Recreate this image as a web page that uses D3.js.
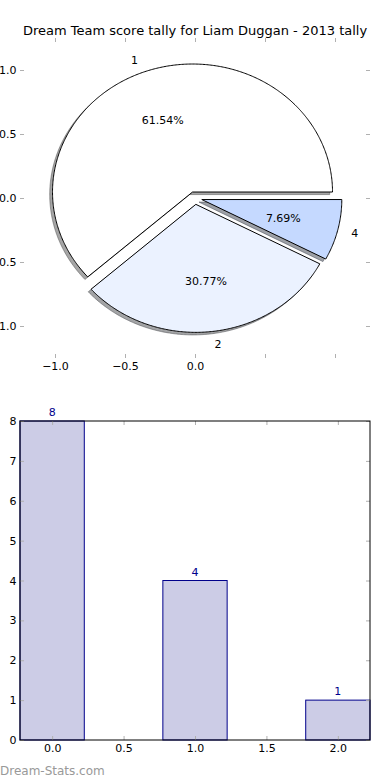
<!DOCTYPE html>
<html><head><meta charset="utf-8">
<script src="https://cdn.jsdelivr.net/npm/d3@7"></script>
<style>
html,body{margin:0;padding:0;background:#fff;}
svg{display:block;font-family:"DejaVu Sans",sans-serif;}
</style></head>
<body>
<svg id="c" width="390" height="780"></svg>
<script>
// ---- data ----
const titleText = "Dream Team score tally for Liam Duggan - 2013 tally";
const pieLabels = ["1", "2", "4"];
const pieValues = [8, 4, 1];
const barCategories = [0, 1, 2];
const barValues = [8, 4, 1];
const pieXTicks = [-1.0, -0.5, 0.0, 0.5, 1.0];
const pieXTickLabels = ["\u22121.0", "\u22120.5", "0.0", "", ""];
const pieYTicks = [-1.0, -0.5, 0.0, 0.5, 1.0];
const pieYTickLabels = ["\u22121.0", "\u22120.5", "0.0", "0.5", "1.0"];
const barXTicks = [0.0, 0.5, 1.0, 1.5, 2.0];
const barYTicks = [0, 1, 2, 3, 4, 5, 6, 7, 8];
const watermark = "Dream-Stats.com";

// ---- styles ----
const pieColors = ["#ffffff", "#ebf2ff", "#c5d9ff"];
const explode = 0.05;
const tickColor = "#b0b0b0";

const svg = d3.select("#c");

// title
svg.append("text").attr("x", 195).attr("y", 35).attr("text-anchor", "middle")
  .attr("font-size", "13px").attr("fill", "#000").text(titleText);

// ---- pie axes ----
const px = d3.scaleLinear().domain([-1.25, 1.25]).range([20, 370]);
const py = d3.scaleLinear().domain([-1.25, 1.25]).range([358, 38]);

function styleAxis(g) {
  g.select(".domain").remove();
  g.selectAll(".tick line").attr("stroke", tickColor).attr("stroke-width", 1);
  g.selectAll(".tick text").attr("fill", "#000").attr("font-size", "11px")
    .attr("font-family", "DejaVu Sans, sans-serif");
}

const pieX = d3.axisBottom(px).tickValues(pieXTicks).tickSizeInner(-4).tickSizeOuter(0).tickPadding(4)
  .tickFormat((d, i) => pieXTickLabels[i]);
svg.append("g").attr("transform", "translate(0,358)").call(pieX).call(styleAxis);
svg.append("g").attr("transform", "translate(0,38)")
  .call(d3.axisTop(px).tickValues(pieXTicks).tickSizeInner(-4).tickSizeOuter(0).tickFormat(""))
  .call(styleAxis);
svg.append("g").attr("transform", "translate(20,0)")
  .call(d3.axisLeft(py).tickValues(pieYTicks).tickSizeInner(-4).tickSizeOuter(0).tickPadding(3.5)
    .tickFormat((d, i) => pieYTickLabels[i]))
  .call(styleAxis);
svg.append("g").attr("transform", "translate(370,0)")
  .call(d3.axisRight(py).tickValues(pieYTicks).tickSizeInner(-4).tickSizeOuter(0).tickFormat(""))
  .call(styleAxis);

// pie wedges (matplotlib style: start at east, counter-clockwise)
const arcs = d3.pie().sort(null).startAngle(0).endAngle(2 * Math.PI)(pieValues);
const total = d3.sum(pieValues);
const line = d3.line().x(d => px(d[0])).y(d => py(d[1]));

function wedgePts(a, ox, oy) {
  const mid = (a.startAngle + a.endAngle) / 2;
  const cx = explode * Math.cos(mid) + ox, cy = explode * Math.sin(mid) + oy;
  const pts = [[cx, cy]];
  const n = Math.max(4, Math.ceil((a.endAngle - a.startAngle) / 0.01));
  for (let k = 0; k <= n; k++) {
    const t = a.startAngle + (a.endAngle - a.startAngle) * k / n;
    pts.push([cx + Math.cos(t), cy + Math.sin(t)]);
  }
  pts.push([cx, cy]);
  return pts;
}

const pieG = svg.append("g");
// shadows
arcs.forEach((a, i) => {
  const c = d3.rgb(pieColors[i]);
  const sc = `rgba(${Math.round(c.r * 0.3)},${Math.round(c.g * 0.3)},${Math.round(c.b * 0.3)},0.5)`;
  pieG.append("path").attr("d", line(wedgePts(a, -0.02, -0.02)) + "Z")
    .attr("fill", sc).attr("stroke", sc).attr("stroke-width", 1);
});
// wedges
arcs.forEach((a, i) => {
  pieG.append("path").attr("d", line(wedgePts(a, 0, 0)) + "Z")
    .attr("fill", pieColors[i]).attr("stroke", "#000").attr("stroke-width", 1)
    .attr("stroke-linejoin", "miter");
});
// labels
arcs.forEach((a, i) => {
  const mid = (a.startAngle + a.endAngle) / 2;
  const cx = explode * Math.cos(mid), cy = explode * Math.sin(mid);
  const lx = cx + 1.1 * Math.cos(mid), ly = cy + 1.1 * Math.sin(mid);
  pieG.append("text").attr("x", px(lx)).attr("y", py(ly)).attr("dy", "0.36em")
    .attr("text-anchor", lx > 0 ? "start" : "end").attr("font-size", "11px").text(pieLabels[i]);
  const tx = cx + 0.6 * Math.cos(mid), ty = cy + 0.6 * Math.sin(mid);
  pieG.append("text").attr("x", px(tx)).attr("y", py(ty)).attr("dy", "0.36em")
    .attr("text-anchor", "middle").attr("font-size", "11px")
    .text(d3.format(".2f")(pieValues[i] / total * 100) + "%");
});

// ---- bar axes ----
const bx = d3.scaleLinear().domain([-0.225, 2.225]).range([20, 370]);
const by = d3.scaleLinear().domain([0, 8]).range([740, 421]);
const barW = 0.45;

svg.append("g").selectAll("rect").data(barValues).join("rect")
  .attr("x", (d, i) => bx(barCategories[i] - barW / 2))
  .attr("y", d => by(d))
  .attr("width", (d, i) => bx(barCategories[i] + barW / 2) - bx(barCategories[i] - barW / 2))
  .attr("height", d => by(0) - by(d))
  .attr("fill", "#cccce6").attr("stroke", "#00008b").attr("stroke-width", 1);

svg.append("g").attr("transform", "translate(0,740)")
  .call(d3.axisBottom(bx).tickValues(barXTicks).tickSizeInner(-4).tickSizeOuter(0).tickPadding(4)
    .tickFormat(d3.format(".1f")))
  .call(styleAxis);
svg.append("g").attr("transform", "translate(0,421)")
  .call(d3.axisTop(bx).tickValues(barXTicks).tickSizeInner(-4).tickSizeOuter(0).tickFormat(""))
  .call(styleAxis);
svg.append("g").attr("transform", "translate(20,0)")
  .call(d3.axisLeft(by).tickValues(barYTicks).tickSizeInner(-4).tickSizeOuter(0).tickPadding(3.5)
    .tickFormat(d3.format("d")))
  .call(styleAxis);
svg.append("g").attr("transform", "translate(370,0)")
  .call(d3.axisRight(by).tickValues(barYTicks).tickSizeInner(-4).tickSizeOuter(0).tickFormat(""))
  .call(styleAxis);

// frame
svg.append("rect").attr("x", bx(-0.225)).attr("y", by(8))
  .attr("width", bx(2.225) - bx(-0.225)).attr("height", by(0) - by(8))
  .attr("fill", "none").attr("stroke", "#000").attr("stroke-width", 1);

// bar value labels
svg.append("g").selectAll("text").data(barValues).join("text")
  .attr("x", (d, i) => bx(barCategories[i]))
  .attr("y", d => by(d) - 5)
  .attr("text-anchor", "middle").attr("font-size", "11px").attr("fill", "#00008b")
  .text(d => d);

// watermark
svg.append("text").attr("x", 0).attr("y", 775).attr("font-size", "12px")
  .attr("fill", "#999").text(watermark);
</script>
</body></html>
